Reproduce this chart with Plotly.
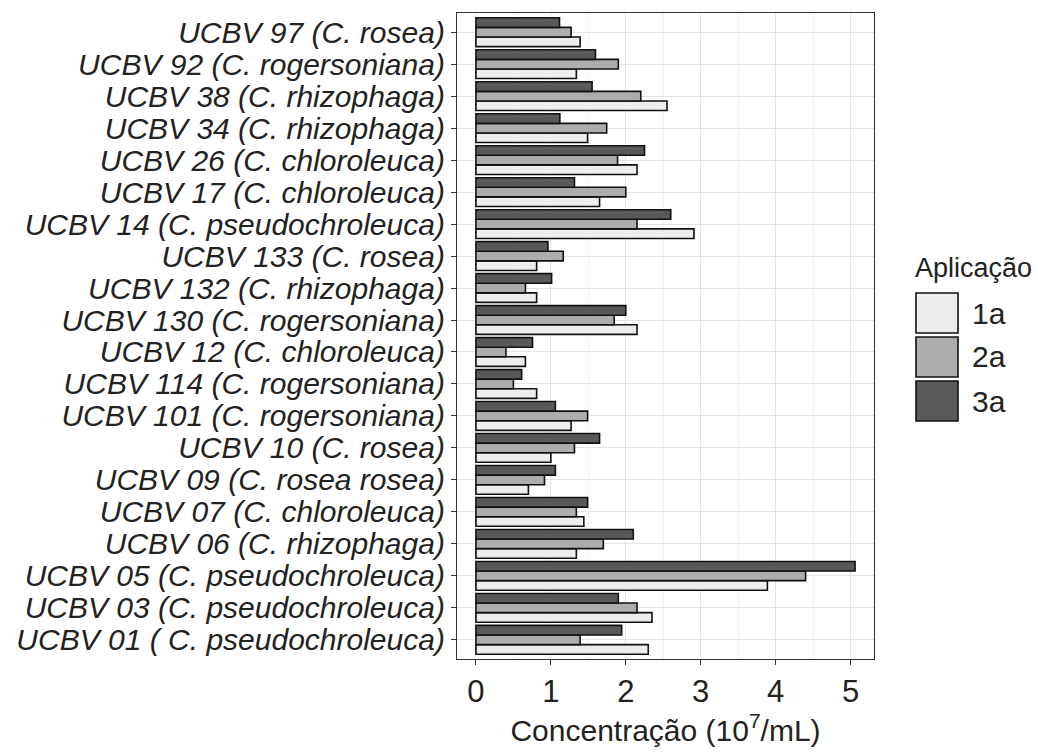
import plotly.graph_objects as go

# ---------------- data ----------------
categories = [
    "UCBV 01 ( C. pseudochroleuca)",
    "UCBV 03 (C. pseudochroleuca)",
    "UCBV 05 (C. pseudochroleuca)",
    "UCBV 06 (C. rhizophaga)",
    "UCBV 07 (C. chloroleuca)",
    "UCBV 09 (C. rosea rosea)",
    "UCBV 10 (C. rosea)",
    "UCBV 101 (C. rogersoniana)",
    "UCBV 114 (C. rogersoniana)",
    "UCBV 12 (C. chloroleuca)",
    "UCBV 130 (C. rogersoniana)",
    "UCBV 132 (C. rhizophaga)",
    "UCBV 133 (C. rosea)",
    "UCBV 14 (C. pseudochroleuca)",
    "UCBV 17 (C. chloroleuca)",
    "UCBV 26 (C. chloroleuca)",
    "UCBV 34 (C. rhizophaga)",
    "UCBV 38 (C. rhizophaga)",
    "UCBV 92 (C. rogersoniana)",
    "UCBV 97 (C. rosea)",
]
app_1a = [2.30, 2.35, 3.89, 1.34, 1.44, 0.70, 1.00, 1.27, 0.81, 0.66,
          2.15, 0.81, 0.81, 2.91, 1.65, 2.15, 1.49, 2.55, 1.34, 1.39]
app_2a = [1.39, 2.15, 4.40, 1.70, 1.34, 0.915, 1.315, 1.49, 0.50, 0.40,
          1.845, 0.66, 1.165, 2.15, 2.00, 1.89, 1.745, 2.20, 1.90, 1.27]
app_3a = [1.945, 1.90, 5.06, 2.10, 1.49, 1.06, 1.65, 1.06, 0.61, 0.755,
          2.00, 1.01, 0.96, 2.60, 1.315, 2.25, 1.12, 1.55, 1.595, 1.115]
series_names = ["1a", "2a", "3a"]
series_colors = ["#EDEDED", "#ADADAD", "#595959"]
x_ticks = [0, 1, 2, 3, 4, 5]

# ---------------- figure ----------------
W, H = 1038, 756
PL, PR, PT, PB = 457, 874, 13, 659  # panel box in pixels
FONT = "Liberation Sans, Arial, sans-serif"

fig = go.Figure()
for name, vals, col in zip(series_names, [app_1a, app_2a, app_3a], series_colors):
    fig.add_trace(go.Bar(
        y=categories, x=vals, name=name, orientation="h",
        marker=dict(color=col, line=dict(color="#111111", width=1.6)),
        showlegend=False,
    ))

xmax = max(max(app_1a), max(app_2a), max(app_3a))
pad = xmax * 0.05

fig.update_layout(
    width=W, height=H,
    margin=dict(l=PL, r=W - PR, t=PT, b=H - PB, autoexpand=False),
    paper_bgcolor="white", plot_bgcolor="white",
    barmode="group", bargap=0.1, bargroupgap=0.0,
    font=dict(family=FONT, color="#1f1f1f"),
)
fig.update_xaxes(
    range=[-pad, xmax + pad],
    tickvals=x_ticks, ticktext=[str(t) for t in x_ticks],
    tickfont=dict(size=31, color="#222222", family=FONT),
    ticks="outside", ticklen=5, tickcolor="#333333", tickwidth=1,
    showgrid=True, gridcolor="#E3E3E3", gridwidth=1,
    minor=dict(dtick=0.5, tick0=0, showgrid=True, gridcolor="#F0F0F0", gridwidth=0.6),
    showline=True, linecolor="#333333", linewidth=1.2, mirror=True,
    zeroline=False,
    title=dict(text="Concentração (10<sup>7</sup>/mL)",
               font=dict(size=30, color="#222222", family=FONT), standoff=8),
    automargin=False,
)
fig.update_yaxes(
    type="category", categoryorder="array", categoryarray=categories,
    tickmode="array", tickvals=categories, ticktext=categories,
    range=[-0.6, len(categories) - 0.4],
    tickfont=dict(size=30, color="#222222", family=FONT, style="italic"),
    ticks="outside", ticklen=5, tickcolor="#333333", tickwidth=1,
    showgrid=True, gridcolor="#E3E3E3", gridwidth=1,
    showline=True, linecolor="#333333", linewidth=1.2, mirror=True,
    zeroline=False, automargin=False,
)

# ---------------- manual legend (ggplot-style large keys) ----------------
def px(xp):
    return (xp - PL) / (PR - PL)

def py(yp):
    return (PB - yp) / (PB - PT)

fig.add_annotation(
    x=px(913), y=py(268), xref="paper", yref="paper",
    text="Aplicação", showarrow=False, xanchor="left", yanchor="middle",
    font=dict(size=27, color="#222222", family=FONT),
)
key_tops = [293, 337, 381]
for top, name, col in zip(key_tops, series_names, series_colors):
    fig.add_shape(
        type="rect", xref="paper", yref="paper",
        x0=px(916), x1=px(958), y0=py(top + 40), y1=py(top),
        fillcolor=col, line=dict(color="#111111", width=1.6),
    )
    fig.add_annotation(
        x=px(970), y=py(top + 20), xref="paper", yref="paper",
        text=name, showarrow=False, xanchor="left", yanchor="middle",
        font=dict(size=30, color="#222222", family=FONT),
    )

fig.write_html("out.html")
